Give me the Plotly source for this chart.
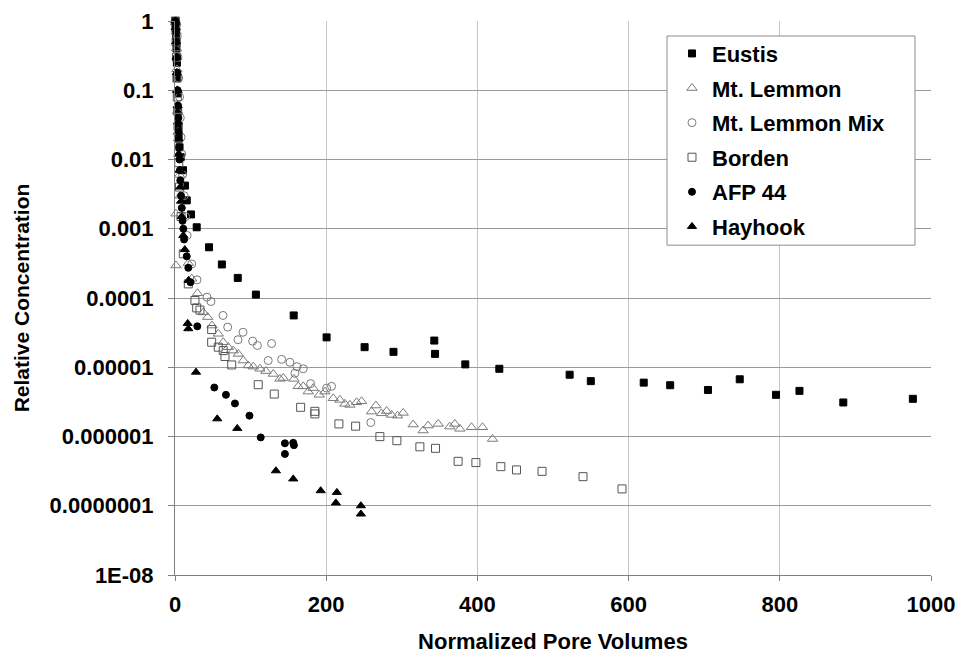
import plotly.graph_objects as go

# ---------------- data ----------------
eustis_x = [0.5, 1, 1.5, 2, 2.5, 3, 3.5, 4, 4.5, 5, 6, 7.5, 10.6, 13.2, 15.5, 21.2, 28.7, 45, 62, 83, 107,
            157, 200.5, 250.8, 289, 343, 344, 384, 429, 522, 550, 620, 655, 705, 747, 795, 826, 884, 976]
eustis_y = [1.0, 0.85, 0.6, 0.4, 0.25, 0.15, 0.09, 0.05, 0.03, 0.02, 0.015, 0.0108, 0.0070, 0.0042, 0.00257,
            0.00161, 0.00105, 0.00054, 0.000305, 0.000195, 0.000112, 5.6e-5, 2.7e-5, 1.95e-5, 1.67e-5,
            2.43e-5, 1.56e-5, 1.10e-5, 9.5e-6, 7.8e-6, 6.3e-6, 6.0e-6, 5.5e-6, 4.7e-6, 6.7e-6, 4.0e-6,
            4.56e-6, 3.1e-6, 3.5e-6]

lemmon_x = [1, 1.5, 2, 2.5, 3, 3.5, 4, 5, 6, 7, 1.3, 1.3, 17.6, 22.1, 29.7, 37.4, 43.2, 49, 57.2, 63.8, 70.5,
            77.1, 83.7, 90.3, 96.9, 103.5, 112.4, 120.3, 130, 138.8, 143.2, 157.3, 163, 169.6, 176.2, 182.8,
            190.8, 198.3, 209.3, 218.1, 224.7, 231.3, 240.2, 246.8, 260, 265.7, 273.2, 279.9, 286.5, 294.4,
            301.8, 315, 328.2, 334.8, 348.1, 363.5, 370.1, 376.8, 392.2, 406.7, 420]
lemmon_y = [0.95, 0.7, 0.4, 0.2, 0.1, 0.05, 0.025, 0.012, 0.006, 0.003, 0.00165, 0.000295, 3.2e-4, 1.9e-4,
            1.17e-4, 6.2e-5, 5.3e-5, 4.0e-5, 3.04e-5, 2.3e-5, 1.95e-5, 1.74e-5, 1.56e-5, 1.25e-5, 1.06e-5,
            1.02e-5, 9.5e-6, 8.8e-6, 8.0e-6, 6.8e-6, 7.0e-6, 6.8e-6, 5.3e-6, 5.3e-6, 4.45e-6, 5.0e-6, 4.0e-6,
            4.45e-6, 3.56e-6, 3.38e-6, 2.96e-6, 2.86e-6, 3.12e-6, 3.23e-6, 2.29e-6, 2.8e-6, 2.16e-6, 2.33e-6,
            2.05e-6, 2.0e-6, 2.19e-6, 1.49e-6, 1.22e-6, 1.44e-6, 1.52e-6, 1.39e-6, 1.52e-6, 1.29e-6, 1.36e-6,
            1.36e-6, 9.2e-7]

mix_x = [1, 2, 3, 4, 5, 6, 7, 8, 9, 10, 12, 14, 16, 22.1, 29.1, 42.3, 47.6, 63.5, 69.7, 83.3, 89.9, 102.7,
         109, 123.3, 127.8, 141, 152, 158.6, 161.3, 169.6, 179.4, 200.5, 207.1, 259]
mix_y = [1.0, 0.9, 0.6, 0.3, 0.15, 0.08, 0.04, 0.021, 0.012, 0.006, 0.003, 0.0015, 0.0008, 3.1e-4, 1.83e-4,
         1.03e-4, 8.9e-5, 5.6e-5, 3.8e-5, 2.5e-5, 3.2e-5, 2.38e-5, 2.06e-5, 1.25e-5, 2.2e-5, 1.3e-5, 1.18e-5,
         8.2e-6, 1.02e-5, 9.5e-6, 5.8e-6, 5.0e-6, 5.3e-6, 1.59e-6]

borden_x = [0.5, 1, 1.5, 2, 2.5, 3, 3.5, 4, 4.5, 5, 6, 8, 11, 17.6, 26.4, 28.7, 33, 48.5, 48.5, 57.2, 63.8,
            66.1, 75, 110.1, 131.3, 166.2, 185, 185, 216.8, 238.9, 271, 293.5, 323.9, 344.6, 374.5, 398, 431,
            451.7, 485.5, 539.7, 591.3]
borden_y = [1.0, 0.8, 0.5, 0.3, 0.15, 0.08, 0.05, 0.03, 0.021, 0.009, 0.004, 0.0015, 4.35e-4, 1.6e-4, 9.2e-5,
            7.2e-5, 6.7e-5, 3.5e-5, 2.3e-5, 1.95e-5, 1.74e-5, 1.43e-5, 1.08e-5, 5.6e-6, 4.1e-6, 2.64e-6,
            2.31e-6, 2.12e-6, 1.52e-6, 1.41e-6, 9.96e-7, 8.7e-7, 7.1e-7, 6.75e-7, 4.38e-7, 4.2e-7, 3.67e-7,
            3.29e-7, 3.14e-7, 2.63e-7, 1.75e-7]

afp_x = [0.5, 1, 1.5, 2, 2.5, 3, 3.5, 4, 4.5, 5, 5.5, 6, 6.5, 7, 8, 9, 10, 11, 12, 15.5, 17.6, 20.5, 29.5,
         52, 67.4, 79.3, 98.5, 113.4, 145.4, 145.4, 156.4, 157.3]
afp_y = [1.0, 0.9, 0.7, 0.5, 0.3, 0.18, 0.1, 0.06, 0.04, 0.025, 0.015, 0.01, 0.007, 0.005, 0.003, 0.002,
         0.0013, 0.001, 0.0007, 4.0e-4, 2.73e-4, 1.69e-4, 3.9e-5, 5.1e-6, 4.0e-6, 3.0e-6, 2.0e-6, 9.7e-7,
         7.97e-7, 5.6e-7, 8.1e-7, 7.5e-7]

hay_x = [0.5, 1, 1.5, 2, 2.5, 3, 3.5, 4, 4.5, 5, 6, 7, 8, 9, 11, 13, 18, 16.8, 17.6, 27.8, 55.9, 82.4, 133.5,
         156.4, 192.7, 214.1, 212.8, 245.9, 245.9]
hay_y = [1.0, 0.8, 0.5, 0.3, 0.18, 0.1, 0.06, 0.035, 0.02, 0.012, 0.007, 0.004, 0.0025, 0.0015, 0.0008,
         0.0005, 0.00018, 4.3e-5, 3.6e-5, 8.5e-6, 1.8e-6, 1.31e-6, 3.2e-7, 2.44e-7, 1.65e-7, 1.56e-7, 1.1e-7,
         1.0e-7, 7.6e-8]

y_tickvals = [1, 0.1, 0.01, 0.001, 0.0001, 0.00001, 0.000001, 0.0000001, 0.00000001]
y_ticktext = ["1", "0.1", "0.01", "0.001", "0.0001", "0.00001", "0.000001", "0.0000001", "1E-08"]
x_tickvals = [0, 200, 400, 600, 800, 1000]

# ---------------- figure ----------------
FONT = "Liberation Sans, Arial, sans-serif"
fig = go.Figure()

series = [
    ("Eustis", eustis_x, eustis_y, "square", 7, "black", "black"),
    ("Mt. Lemmon", lemmon_x, lemmon_y, "triangle-up-open", 9, "#7a7a7a", None),
    ("Mt. Lemmon Mix", mix_x, mix_y, "circle-open", 8, "#7a7a7a", None),
    ("Borden", borden_x, borden_y, "square-open", 8, "#555555", None),
    ("AFP 44", afp_x, afp_y, "circle", 7, "black", "black"),
    ("Hayhook", hay_x, hay_y, "triangle-up", 8, "black", "black"),
]
for i, (name, xs, ys, sym, size, lc, fc) in enumerate(series):
    fig.add_trace(go.Scatter(
        x=xs, y=ys, mode="markers", name=name, legendgroup=f"g{i}",
        cliponaxis=False,
        marker=dict(symbol=sym, size=size, color=fc if fc else lc,
                    line=dict(color=lc, width=1)),
    ))

# legend frame (white box with grey border)
fig.add_shape(type="rect", xref="paper", yref="paper",
              x0=0.6508, x1=0.9788, y0=0.5954, y1=0.9729,
              line=dict(color="#8c8c8c", width=1), fillcolor="white", layer="above")

fig.update_layout(
    width=961, height=654,
    margin=dict(l=175, r=30, t=21, b=79),
    paper_bgcolor="white", plot_bgcolor="white",
    font=dict(family=FONT, color="black", size=20),
    showlegend=True,
    legend=dict(
        x=0.6574, y=0.979, xanchor="left", yanchor="top",
        bgcolor="rgba(0,0,0,0)", borderwidth=0,
        font=dict(family=FONT, size=22, color="black", weight="bold"),
        tracegroupgap=3, itemwidth=30,
    ),
    xaxis=dict(
        range=[0, 1000], tickvals=x_tickvals, automargin=False,
        showgrid=True, gridcolor="#c6c6c6", gridwidth=1,
        showline=True, linecolor="#808080", linewidth=1,
        ticks="outside", ticklen=5, tickcolor="#808080",
        zeroline=False, ticklabelstandoff=5,
        tickfont=dict(family=FONT, size=22, color="black", weight="bold"),
        title=dict(text="Normalized Pore Volumes", standoff=22,
                   font=dict(family=FONT, size=22, color="black", weight="bold")),
    ),
    yaxis=dict(
        type="log", range=[-8, 0], automargin=False,
        tickvals=y_tickvals, ticktext=y_ticktext,
        showgrid=True, gridcolor="#9a9a9a", gridwidth=1,
        showline=True, linecolor="#808080", linewidth=1,
        ticks="outside", ticklen=6, tickcolor="#808080",
        zeroline=False, ticklabelstandoff=10,
        tickfont=dict(family=FONT, size=22, color="black", weight="bold"),
        title=dict(text="Relative Concentration", standoff=14,
                   font=dict(family=FONT, size=21, color="black", weight="bold")),
    ),
)

fig.write_html("out.html")
